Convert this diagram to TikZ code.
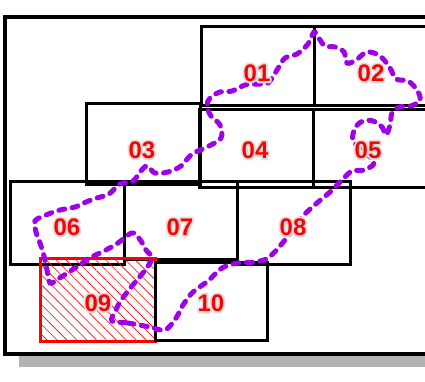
\documentclass[tikz,border=0pt]{standalone}
\usepackage{fontspec}
\setmainfont{Liberation Sans}
\usetikzlibrary{patterns.meta}

\definecolor{routeviolet}{RGB}{158,0,232}
\definecolor{shadowgray}{RGB}{178,178,178}
\definecolor{halogray}{RGB}{222,222,222}

% Red tile number on a light gray halo (stroked copy under the text).
\newcommand{\tilenum}[1]{%
  \rlap{\color{halogray}\special{pdf:literal direct 2 Tr 4 w 1 j 1 J}#1\special{pdf:literal direct 0 Tr}}#1}

\begin{document}
\begin{tikzpicture}[
  x=1pt, y=-1pt,
  frame/.style={draw=black, fill=white, line width=4pt},
  tile/.style={
    draw=black,
    line width=3pt,
    anchor=north west,
    inner sep=0pt,
    outer sep=0pt,
    minimum width=#1
  },
  tile/.default=113pt,
  hatched/.style={
    draw=red,
    pattern={Lines[angle=-45,distance=7pt,line width=0.6pt]},
    pattern color=red
  },
  lbl/.style={font=\fontsize{24}{24}\bfseries, text=red, inner sep=0pt},
  route/.style={
    draw=routeviolet,
    line width=5pt,
    line cap=round,
    dash pattern=on 6pt off 7.5pt
  }
]
\useasboundingbox (0,0) rectangle (425,382);
\clip (0,0) rectangle (425,382);

% Outer frame with its shadow.
\fill[shadowgray] (19,30) rectangle (460,367);
\draw[frame] (5,17.5) rectangle (450,354);

% Top row.
\node[tile, minimum height=79pt] (t01) at (201,27) {};
\node[tile=130pt, minimum height=79pt] (t02) at (314,27) {};

% Second row.
\node[tile=114pt, minimum height=80pt] (t03) at (86,104) {};
\node[tile=114pt, minimum height=77pt] (t04) at (199,110) {};
\node[tile=130pt, minimum height=77pt] (t05) at (313,110) {};

% Third row.
\node[tile=114pt, minimum height=83pt] (t06) at (10,181) {};
\node[tile, minimum height=78pt] (t07) at (124,181) {};
\node[tile, minimum height=83pt] (t08) at (237,181) {};

% Bottom row.
\node[tile=115pt, minimum height=83pt, hatched] (t09) at (40,258) {};
\node[tile=112pt, minimum height=78pt] (t10) at (155,262) {};

% Route.
\draw[route] plot[smooth cycle, tension=0.55] coordinates {
  (112,321) (128,323) (150,327) (165,330) (176,318) (183,305) (193,292)
  (208,281) (222,268) (238,263) (255,262) (268,258) (280,246) (291,232)
  (303,216) (317,203) (330,192) (342,180) (352,171) (364,170) (374,163)
  (364,151) (353,141) (355,128) (363,121) (373,121) (382,127) (386,135)
  (390,125) (392,113) (399,107) (411,106) (420,100) (417,90) (408,81)
  (396,79) (390,68) (380,56) (367,52) (356,60) (347,63) (344,52) (335,47)
  (325,46) (318,37) (314,32) (308,44) (297,54) (285,58) (277,70) (268,83)
  (257,84) (245,85) (232,91) (220,92) (210,98) (207,106) (211,116)
  (220,125) (221,138) (207,147) (192,154) (181,166) (168,172) (155,173)
  (147,166) (140,172) (133,181) (120,184) (109,194) (97,198) (86,202)
  (75,207) (60,210) (46,215) (35,221) (36,232) (40,243) (44,256) (47,270)
  (50,283) (58,279) (75,268) (90,258) (106,250) (118,243) (128,235)
  (134,233) (141,241) (146,250) (152,258) (146,269) (137,280) (128,291)
  (120,302) (115,312)
};

% Tile labels.
\node[lbl] (l01) at (257,73) {\tilenum{01}};
\node[lbl] (l02) at (371,73) {\tilenum{02}};
\node[lbl] (l03) at (142,150) {\tilenum{03}};
\node[lbl] (l04) at (255,150) {\tilenum{04}};
\node[lbl] (l05) at (368,150) {\tilenum{05}};
\node[lbl] (l06) at (67,227) {\tilenum{06}};
\node[lbl] (l07) at (180,227) {\tilenum{07}};
\node[lbl] (l08) at (293,227) {\tilenum{08}};
\node[lbl] (l09) at (98,303) {\tilenum{09}};
\node[lbl] (l10) at (211,303) {\tilenum{10}};

\end{tikzpicture}
\end{document}
